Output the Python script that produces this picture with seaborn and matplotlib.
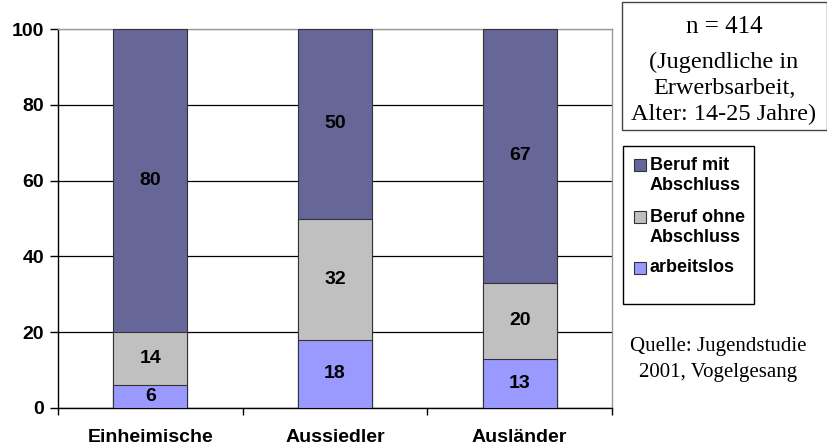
import pandas as pd
import matplotlib.pyplot as plt
import seaborn as sns
from matplotlib.patches import Rectangle

# data (percent)
categories = ["Einheimische", "Aussiedler", "Ausländer"]
arbeitslos = [6, 18, 13]
ohne_abschluss = [14, 32, 20]
mit_abschluss = [80, 50, 67]

series_labels = ["Beruf mit\nAbschluss", "Beruf ohne\nAbschluss", "arbeitslos"]
series_colors = ["#666699", "#C0C0C0", "#9999FF"]

sns.set_style("white")
plt.rcParams['font.family'] = ['Liberation Sans', 'DejaVu Sans']
plt.rcParams['text.color'] = 'black'

df = pd.DataFrame({
    'gruppe': categories,
    'arbeitslos': arbeitslos,
    'ohne': ohne_abschluss,
    'mit': mit_abschluss,
})
# cumulative heights for the stacked look
df['bis_ohne'] = df['arbeitslos'] + df['ohne']
df['gesamt'] = df['bis_ohne'] + df['mit']

fig = plt.figure(figsize=(8.28, 4.47), dpi=100)
ax = fig.add_axes([58 / 828, 39 / 447, 554 / 828, 379 / 447])

bar_kws = dict(width=0.4, edgecolor='#333333', linewidth=0.8, saturation=1,
               errorbar=None, ax=ax, zorder=3)
sns.barplot(data=df, x='gruppe', y='gesamt', color=series_colors[0], **bar_kws)
sns.barplot(data=df, x='gruppe', y='bis_ohne', color=series_colors[1], **bar_kws)
sns.barplot(data=df, x='gruppe', y='arbeitslos', color=series_colors[2], **bar_kws)

# value labels in the middle of each segment
label_font = dict(ha='center', va='center', fontsize=14, fontweight='bold',
                  color='black', zorder=5)
for i, row in df.iterrows():
    ax.text(i, row['arbeitslos'] / 2, str(row['arbeitslos']), **label_font)
    ax.text(i, row['arbeitslos'] + row['ohne'] / 2, str(row['ohne']), **label_font)
    ax.text(i, row['bis_ohne'] + row['mit'] / 2, str(row['mit']), **label_font)

ax.set_xlim(-0.5, 2.5)
ax.set_ylim(0, 100)
ax.set_yticks(range(0, 101, 20))
ax.set_xlabel('')
ax.set_ylabel('')

# grid
ax.set_axisbelow(True)
ax.yaxis.grid(True, color='black', linewidth=0.9)
ax.get_ygridlines()[-1].set_color('#999999')

for side in ['left', 'bottom']:
    ax.spines[side].set_color('black')
    ax.spines[side].set_linewidth(1)
for side in ['top', 'right']:
    ax.spines[side].set_color('#999999')
    ax.spines[side].set_linewidth(1)

ax.tick_params(axis='y', which='major', direction='out', length=6, width=1,
               color='black', labelcolor='black', labelsize=14, pad=4, left=True)
ax.tick_params(axis='x', which='major', length=0, labelcolor='black',
               labelsize=14, pad=15)
ax.set_xticks([-0.5, 0.5, 1.5, 2.5], minor=True)
ax.tick_params(axis='x', which='minor', direction='out', length=5, width=1,
               color='black', bottom=True)
for lbl in ax.get_xticklabels() + ax.get_yticklabels():
    lbl.set_fontweight('bold')

W, H = 828, 447


def fx(px):
    return px / W


def fy(py):
    return 1 - py / H


# info box top right
fig.add_artist(Rectangle((fx(622), fy(130)), 205 / W, 128 / H,
                         transform=fig.transFigure, fill=False,
                         edgecolor='#444444', linewidth=1))
serif = ['Liberation Serif', 'DejaVu Serif']
info_lines = ["n = 414", "(Jugendliche in", "Erwerbsarbeit,", "Alter: 14-25 Jahre)"]
for text, y in zip(info_lines, [27, 62, 88, 114]):
    fig.text(fx(724), fy(y), text, ha='center', va='center',
             family=serif, fontsize=18 if text.startswith('n') else 17.5)

# legend box (drawn by hand so the swatch sits on the first label line)
fig.add_artist(Rectangle((fx(623), fy(304)), 131 / W, 158 / H,
                         transform=fig.transFigure, fill=False,
                         edgecolor='black', linewidth=1))
entry_y = [165, 217, 268]
for label, color, y in zip(series_labels, series_colors, entry_y):
    fig.add_artist(Rectangle((fx(634), fy(y + 6)), 12 / W, 12 / H,
                             transform=fig.transFigure, facecolor=color,
                             edgecolor='#333333', linewidth=0.8))
    for k, line in enumerate(label.split('\n')):
        fig.text(fx(650), fy(y + 20 * k), line, ha='left', va='center',
                 fontsize=13, fontweight='bold')

fig.text(fx(718), fy(347), "Quelle: Jugendstudie", ha='center', va='center',
         family=serif, fontsize=15)
fig.text(fx(718), fy(373), "2001, Vogelgesang", ha='center', va='center',
         family=serif, fontsize=15)

plt.savefig('out.png', dpi=100)
plt.close()
